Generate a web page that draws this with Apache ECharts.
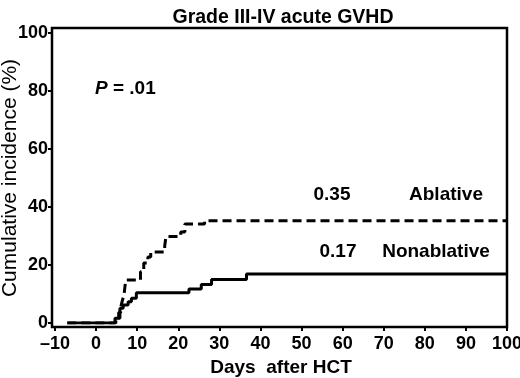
<!DOCTYPE html>
<html>
<head>
<meta charset="utf-8">
<script src="https://cdn.jsdelivr.net/npm/echarts@6/dist/echarts.min.js"></script>
<style>
html,body{margin:0;padding:0;background:#fff;}
#chart{width:520px;height:378px;}
</style>
</head>
<body>
<div id="chart"></div>
<script>
// ---- data ----
var chartTitle = 'Grade III-IV acute GVHD';
var xAxisName = 'Days  after HCT';
var yAxisName = 'Cumulative incidence (%)';
var xTicks = [-10, 0, 10, 20, 30, 40, 50, 60, 70, 80, 90, 100];
var yTicks = [0, 20, 40, 60, 80, 100];

// Nonablative (solid) step curve: day of change, cumulative incidence (%)
var daysNonablative = [-7, 4.6, 5.8, 6.6, 7.8, 8.6, 9.8, 22.6, 25.6, 28.1, 36.6, 100];
var ciNonablative   = [0, 1.6, 5.1, 6.2, 7.3, 8.5, 10.4, 11.7, 13.3, 15.0, 16.9, 16.9];

// Ablative (dashed) step curve
var daysAblative = [-7, 4.8, 5.5, 6.0, 6.4, 6.8, 7.2, 10.8, 11.6, 12.6, 13.3, 16.7, 17.0, 20.6, 21.6, 26.4, 100];
var ciAblative   = [0, 1.8, 3.6, 5.4, 7.8, 9.7, 14.8, 17.7, 20.7, 22.8, 24.5, 26.5, 29.8, 31.4, 34.1, 35.3, 35.3];

var labelAblative = 'Ablative', valueAblative = '0.35';
var labelNonablative = 'Nonablative', valueNonablative = '0.17';
var pText = '.01';

function pairs(xs, ys){ return xs.map(function(x,i){ return [x, ys[i]]; }); }

var FONT = '"Liberation Sans", Arial, sans-serif';
var chart = echarts.init(document.getElementById('chart'), null, {renderer:'canvas'});

chart.setOption({
  animation: false,
  backgroundColor: '#fff',
  title: {
    text: chartTitle, left: 278, top: 3, textAlign: 'center',
    textStyle: {fontFamily: FONT, fontWeight: 'bold', fontSize: 19.5, color: '#000'}
  },
  grid: [
    {left: 55, right: 13, top: 33, bottom: 55, show: false, containLabel: false, outerBoundsMode: 'none'},
    {left: 52, right: 13, top: 28, bottom: 51, show: true, borderColor: '#000', borderWidth: 2.5, backgroundColor: 'transparent', containLabel: false, outerBoundsMode: 'none'}
  ],
  xAxis: [
    {
      type: 'value', gridIndex: 0, min: -10, max: 100, interval: 10, offset: 4,
      axisLine: {show: false, onZero: false},
      axisTick: {show: true, length: 4, lineStyle: {color: '#000', width: 2}},
      splitLine: {show: false},
      axisLabel: {color: '#000', fontFamily: FONT, fontWeight: 'bold', fontSize: 18, margin: 8,
        formatter: function(v){ return v < 0 ? '\u2013' + Math.abs(v) : String(v); }},
      name: xAxisName, nameLocation: 'middle', nameGap: 31,
      nameTextStyle: {color: '#000', fontFamily: FONT, fontWeight: 'bold', fontSize: 19}
    },
    {type: 'value', gridIndex: 1, min: 0, max: 1, show: false}
  ],
  yAxis: [
    {
      type: 'value', gridIndex: 0, min: 0, max: 100, interval: 20, offset: 3,
      axisLine: {show: false, onZero: false},
      axisTick: {show: true, length: 4, lineStyle: {color: '#000', width: 2}},
      splitLine: {show: false},
      axisLabel: {color: '#000', fontFamily: FONT, fontWeight: 'bold', fontSize: 18, margin: 4},
      name: yAxisName, nameLocation: 'middle', nameGap: 31, nameRotate: 90, nameMoveOverlap: false,
      nameTextStyle: {color: '#000', fontFamily: FONT, fontWeight: 'normal', fontSize: 21}
    },
    {type: 'value', gridIndex: 1, min: 0, max: 1, show: false}
  ],
  series: [
    {
      name: labelNonablative, type: 'line', step: 'end', xAxisIndex: 0, yAxisIndex: 0,
      data: pairs(daysNonablative, ciNonablative), showSymbol: false, symbol: 'none',
      lineStyle: {color: '#000', width: 3, type: 'solid'}
    },
    {
      name: labelAblative, type: 'line', step: 'end', xAxisIndex: 0, yAxisIndex: 0,
      data: pairs(daysAblative, ciAblative), showSymbol: false, symbol: 'none',
      lineStyle: {color: '#000', width: 3, type: [9, 5]}
    }
  ],
  graphic: [
    {type: 'text', left: 95, top: 79, style: {
      text: '{i|P}{b| = ' + pText + '}',
      rich: {
        i: {fontFamily: FONT, fontWeight: 'bold', fontStyle: 'italic', fontSize: 19, fill: '#000'},
        b: {fontFamily: FONT, fontWeight: 'bold', fontSize: 19, fill: '#000'}
      }}},
    {type: 'text', x: 332, y: 195, style: {text: valueAblative, textAlign: 'center', textVerticalAlign: 'middle', font: 'bold 19px ' + FONT, fill: '#000'}},
    {type: 'text', x: 446, y: 195, style: {text: labelAblative, textAlign: 'center', textVerticalAlign: 'middle', font: 'bold 19px ' + FONT, fill: '#000'}},
    {type: 'text', x: 338, y: 252, style: {text: valueNonablative, textAlign: 'center', textVerticalAlign: 'middle', font: 'bold 19px ' + FONT, fill: '#000'}},
    {type: 'text', x: 436, y: 252, style: {text: labelNonablative, textAlign: 'center', textVerticalAlign: 'middle', font: 'bold 19px ' + FONT, fill: '#000'}}
  ]
});
</script>
</body>
</html>
